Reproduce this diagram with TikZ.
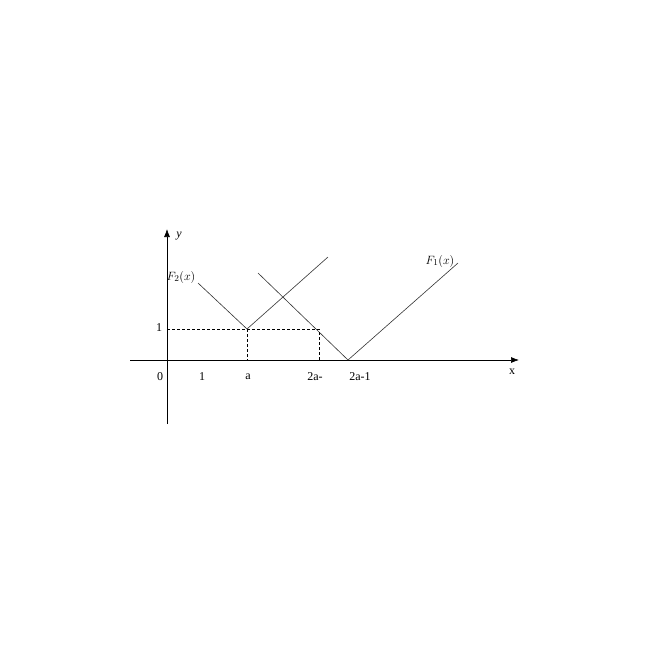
\documentclass[tikz,border=0pt]{standalone}
\usepackage{fontspec}
\setmainfont{Liberation Serif}
\usetikzlibrary{positioning,arrows.meta}

\begin{document}
\begin{tikzpicture}[x=1pt,y=-1pt,
  axis/.style={line width=0.7pt, -{Latex[length=8pt,width=6pt]}},
  graph/.style={line width=0.6pt, black!80},
  guide/.style={line width=0.6pt, dash pattern=on 3pt off 2pt},
  lbl/.style={font=\fontsize{12}{13}\selectfont, inner sep=1pt}]
\useasboundingbox (0,0) rectangle (651,651);
% axes
\coordinate (xs) at (130,360);
\coordinate (xe) at (519,360);
\coordinate (ys) at (167,424);
\coordinate (ye) at (167,229);
\draw[axis] (xs) -- (xe);
\draw[axis] (ys) -- (ye);
\node[lbl] (ylab) at (179,236) {\textit{y}};
\node[lbl] (xlab) at (512,372) {x};
% F2 branch
\coordinate (fa) at (198,283);
\coordinate (va) at (247,329);
\coordinate (fb) at (328,257);
\draw[graph] (fa) -- (va) -- (fb);
% F1 branch
\coordinate (ga) at (258,273);
\coordinate (vb) at (348,360);
\coordinate (gb) at (458,263);
\draw[graph] (ga) -- (vb) -- (gb);
% dashed guides
\coordinate (oy) at (167,329);
\coordinate (ca) at (319,329);
\coordinate (xa) at (247,360);
\coordinate (xc) at (319,360);
\draw[guide] (oy) -- (ca) -- (xc);
\draw[guide] (va) -- (xa);
% tick labels
\node[lbl] (t0) at (160,377) {0};
\node[lbl] (t1) at (202,377) {1};
\node[lbl] (ta) at (248,377) {a};
\node[lbl] (t2a) at (315,377) {2a-};
\node[lbl] (t2a1) at (360,377) {2a-1};
\node[lbl] (ty1) at (159,328) {1};
% curve names
\node[lbl, font=\fontsize{13}{13}\selectfont] (f2lab) at (181,277) {$F_2(x)$};
\node[lbl, font=\fontsize{13}{13}\selectfont] (f1lab) at (440,261) {$F_1(x)$};
\end{tikzpicture}
\end{document}
